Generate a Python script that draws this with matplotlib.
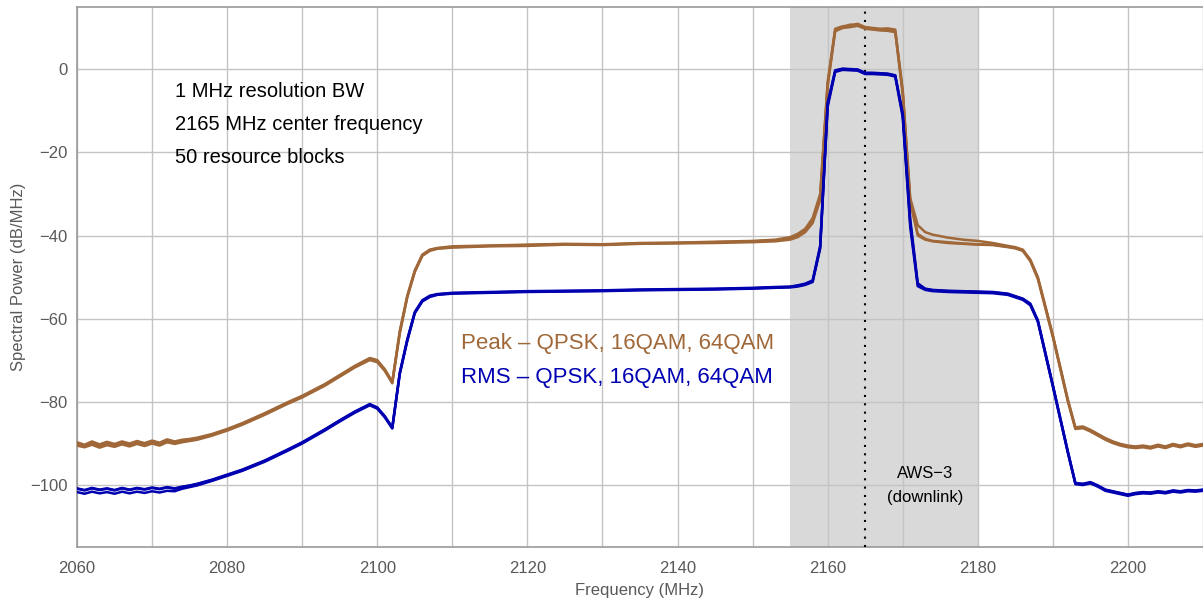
import matplotlib
matplotlib.use("Agg")
import matplotlib.pyplot as plt
from matplotlib.ticker import MultipleLocator
import numpy as np

plt.rcParams['font.family'] = ['Liberation Sans', 'DejaVu Sans']

# frequency grid (MHz), grouped in segments
freq = (
    list(range(2060, 2077))                                              # 17
    + [2078, 2080, 2082, 2085, 2088, 2090, 2093, 2095, 2097, 2099]       # 10
    + list(range(2100, 2109))                                            # 9
    + [2110, 2115, 2120, 2125, 2130, 2135, 2140, 2145, 2150]             # 9
    + [2153, 2155, 2156, 2157, 2158, 2159]                               # 6
    + list(range(2160, 2175))                                            # 15
    + [2176, 2178, 2180, 2182, 2184]                                     # 5
    + [2185, 2186, 2187, 2188, 2190, 2192]                               # 6
    + list(range(2193, 2211))                                            # 18
)

# peak traces (QPSK, 16QAM, 64QAM)
peak_qpsk = (
    [-89.8, -90.4, -89.6, -90.3, -89.7, -90.2, -89.6, -90.1, -89.5, -90.0, -89.4, -89.9, -89.1, -89.6, -89.2, -89.0, -88.7]
    + [-87.8, -86.6, -85.2, -82.8, -80.2, -78.6, -75.8, -73.6, -71.4, -69.5]
    + [-70.0, -72.2, -75.2, -63.0, -54.5, -48.4, -44.6, -43.4, -43.0]
    + [-42.6, -42.4, -42.2, -42.0, -42.1, -41.8, -41.7, -41.5, -41.3]
    + [-41.0, -40.4, -39.6, -38.4, -35.8, -30.0]
    + [-3.0, 9.8, 10.4, 10.6, 11.0, 10.2, 10.0, 9.8, 9.9, 9.6, -5.0, -31.0, -37.5, -39.2, -39.8]
    + [-40.5, -41.0, -41.3, -41.8, -42.5]
    + [-42.8, -43.4, -45.8, -50.0, -64.0, -79.5]
    + [-86.2, -86.0, -86.8, -87.8, -88.8, -89.6, -90.2, -90.6, -90.8, -90.6, -90.9, -90.4, -90.8, -90.2, -90.6, -90.1, -90.5, -90.2]
)
peak_16qam = (
    [-90.6, -91.0, -90.4, -91.1, -90.5, -90.9, -90.3, -90.8, -90.2, -90.7, -90.1, -90.6, -89.8, -90.2, -89.8, -89.5, -89.2]
    + [-88.2, -87.0, -85.6, -83.2, -80.6, -79.0, -76.2, -74.0, -71.8, -70.0]
    + [-70.5, -72.6, -75.6, -63.6, -54.9, -48.8, -44.9, -43.7, -43.2]
    + [-42.9, -42.6, -42.5, -42.2, -42.3, -42.0, -41.9, -41.8, -41.6]
    + [-41.4, -41.0, -40.4, -39.2, -37.0, -31.5]
    + [-4.0, 9.2, 10.0, 10.2, 10.5, 9.8, 9.6, 9.4, 9.3, 9.0, -6.0, -32.0, -40.0, -41.0, -41.4]
    + [-41.8, -42.0, -42.2, -42.3, -42.8]
    + [-43.1, -43.7, -46.2, -50.5, -64.5, -80.0]
    + [-86.6, -86.4, -87.2, -88.2, -89.2, -90.0, -90.6, -91.0, -91.2, -91.0, -91.3, -90.8, -91.2, -90.6, -91.0, -90.5, -90.9, -90.6]
)
peak_64qam = (
    [-90.2, -90.7, -90.0, -90.7, -90.1, -90.6, -90.0, -90.5, -89.9, -90.4, -89.8, -90.3, -89.5, -89.9, -89.5, -89.2, -89.0]
    + [-88.0, -86.8, -85.4, -83.0, -80.4, -78.8, -76.0, -73.8, -71.6, -69.8]
    + [-70.3, -72.4, -75.4, -63.3, -54.7, -48.6, -44.8, -43.5, -43.1]
    + [-42.8, -42.5, -42.3, -42.1, -42.2, -41.9, -41.8, -41.6, -41.4]
    + [-41.2, -40.7, -40.0, -38.8, -36.4, -30.8]
    + [-3.5, 9.5, 10.2, 10.8, 10.7, 10.0, 9.8, 9.6, 9.6, 9.3, -5.5, -31.5, -39.6, -40.8, -41.3]
    + [-41.6, -41.9, -42.1, -42.2, -42.7]
    + [-43.0, -43.6, -46.0, -50.2, -64.2, -79.8]
    + [-86.4, -86.2, -87.0, -88.0, -89.0, -89.8, -90.4, -90.8, -91.0, -90.8, -91.1, -90.6, -91.0, -90.4, -90.8, -90.3, -90.7, -90.4]
)

# RMS traces (QPSK, 16QAM, 64QAM)
rms_qpsk = (
    [-100.9, -101.3, -100.8, -101.2, -100.9, -101.3, -100.8, -101.2, -100.8, -101.1, -100.7, -101.0, -100.6, -100.9, -100.5, -100.2, -99.8]
    + [-98.8, -97.6, -96.4, -94.2, -91.6, -89.8, -86.7, -84.5, -82.4, -80.6]
    + [-81.4, -83.5, -86.2, -73.0, -65.0, -58.4, -55.6, -54.5, -54.1]
    + [-53.8, -53.6, -53.4, -53.3, -53.2, -53.0, -52.9, -52.8, -52.6]
    + [-52.4, -52.3, -52.0, -51.6, -50.8, -42.5]
    + [-8.0, -0.2, 0.2, 0.1, 0.0, -0.8, -0.8, -0.9, -1.0, -1.4, -10.5, -36.0, -51.5, -52.8, -53.1]
    + [-53.3, -53.4, -53.5, -53.6, -54.0]
    + [-54.6, -55.2, -56.4, -60.4, -76.0, -92.0]
    + [-99.6, -99.8, -99.4, -100.2, -101.2, -101.6, -102.0, -102.4, -102.0, -101.8, -101.9, -101.6, -101.8, -101.4, -101.6, -101.3, -101.4, -101.2]
)
rms_16qam = (
    [-101.8, -102.2, -101.7, -102.1, -101.8, -102.2, -101.7, -102.1, -101.7, -102.0, -101.6, -101.9, -101.5, -101.6, -101.0, -100.6, -100.2]
    + [-99.1, -97.9, -96.7, -94.5, -91.9, -90.1, -87.0, -84.8, -82.7, -80.9]
    + [-81.7, -83.8, -86.5, -73.4, -65.4, -58.7, -55.9, -54.8, -54.3]
    + [-54.0, -53.8, -53.6, -53.5, -53.4, -53.2, -53.1, -53.0, -52.8]
    + [-52.6, -52.5, -52.3, -51.9, -51.2, -43.2]
    + [-9.0, -0.6, -0.1, -0.2, -0.3, -1.1, -1.1, -1.2, -1.3, -1.7, -11.5, -38.0, -52.2, -53.1, -53.4]
    + [-53.6, -53.7, -53.8, -53.9, -54.3]
    + [-54.9, -55.5, -56.8, -60.8, -76.4, -92.4]
    + [-99.9, -100.1, -99.7, -100.5, -101.5, -101.9, -102.3, -102.7, -102.3, -102.1, -102.2, -101.9, -102.1, -101.7, -101.9, -101.6, -101.7, -101.5]
)
rms_64qam = (
    [-101.0, -101.4, -100.9, -101.3, -101.0, -101.4, -100.9, -101.3, -100.9, -101.2, -100.8, -101.1, -100.7, -101.0, -100.6, -100.3, -99.9]
    + [-98.9, -97.7, -96.5, -94.3, -91.7, -89.9, -86.8, -84.6, -82.5, -80.7]
    + [-81.5, -83.6, -86.3, -73.2, -65.2, -58.6, -55.7, -54.6, -54.2]
    + [-53.9, -53.7, -53.5, -53.4, -53.3, -53.1, -53.0, -52.9, -52.7]
    + [-52.5, -52.4, -52.1, -51.7, -51.0, -42.8]
    + [-8.5, -0.4, 0.1, 0.0, -0.1, -0.9, -0.9, -1.0, -1.1, -1.5, -11.0, -37.0, -51.8, -52.9, -53.2]
    + [-53.4, -53.5, -53.6, -53.7, -54.1]
    + [-54.7, -55.3, -56.6, -60.6, -76.2, -92.2]
    + [-99.7, -99.9, -99.5, -100.3, -101.3, -101.7, -102.1, -102.5, -102.1, -101.9, -102.0, -101.7, -101.9, -101.5, -101.7, -101.4, -101.5, -101.3]
)

band = (2155, 2180)
center_freq = 2165
notes = ["1 MHz resolution BW", "2165 MHz center frequency", "50 resource blocks"]

BROWN = "#A06838"
BLUE = "#0000B0"
GRID = "#C4C4C4"
TXT = "#595959"

fig = plt.figure(figsize=(12.03, 5.99), dpi=100)
ax = fig.add_axes([0.064, 0.087, 0.936, 0.901])

ax.axvspan(*band, color="#D9D9D9", lw=0, zorder=0.2)
ax.axvline(center_freq, color="black", lw=1.5, ls=(0, (1, 3)), zorder=3)

for vals in (peak_qpsk, peak_16qam, peak_64qam):
    ax.plot(freq, vals, color=BROWN, lw=1.8, zorder=4)
for vals in (rms_qpsk, rms_16qam, rms_64qam):
    ax.plot(freq, vals, color=BLUE, lw=1.8, zorder=5)

ax.set_xlim(2060, 2210)
ax.set_ylim(-115, 15)
ax.xaxis.set_major_locator(MultipleLocator(20))
ax.xaxis.set_minor_locator(MultipleLocator(10))
ax.yaxis.set_major_locator(MultipleLocator(20))
ax.set_axisbelow(True)
ax.grid(which="both", axis="x", color=GRID, lw=1.0)
ax.grid(which="major", axis="y", color=GRID, lw=1.0)
ax.tick_params(which="both", length=0, labelsize=12, labelcolor=TXT)
ax.tick_params(axis="x", pad=10)
ax.tick_params(axis="y", pad=7)

for side in ("left", "bottom", "top"):
    ax.spines[side].set_color("#999999")
    ax.spines[side].set_linewidth(1.2)
ax.spines["right"].set_visible(False)

ax.set_xlabel("Frequency (MHz)", fontsize=12, color=TXT, labelpad=5)
ax.set_ylabel("Spectral Power (dB/MHz)", fontsize=12, color=TXT, labelpad=3)

for y, s in zip([-5.3, -13.3, -21.3], notes):
    ax.text(2073, y, s, fontsize=14.5, va="center", ha="left", color="black")

ax.text(2111.2, -66, "Peak \u2013 QPSK, 16QAM, 64QAM", fontsize=16, color=BROWN, va="center")
ax.text(2111.2, -74.2, "RMS \u2013 QPSK, 16QAM, 64QAM", fontsize=16, color=BLUE, va="center")

ax.text(2173, -97.4, "AWS\u22123", fontsize=12, ha="center", va="center", color="black")
ax.text(2173, -103.2, "(downlink)", fontsize=12, ha="center", va="center", color="black")

fig.savefig("out.png", dpi=100)
